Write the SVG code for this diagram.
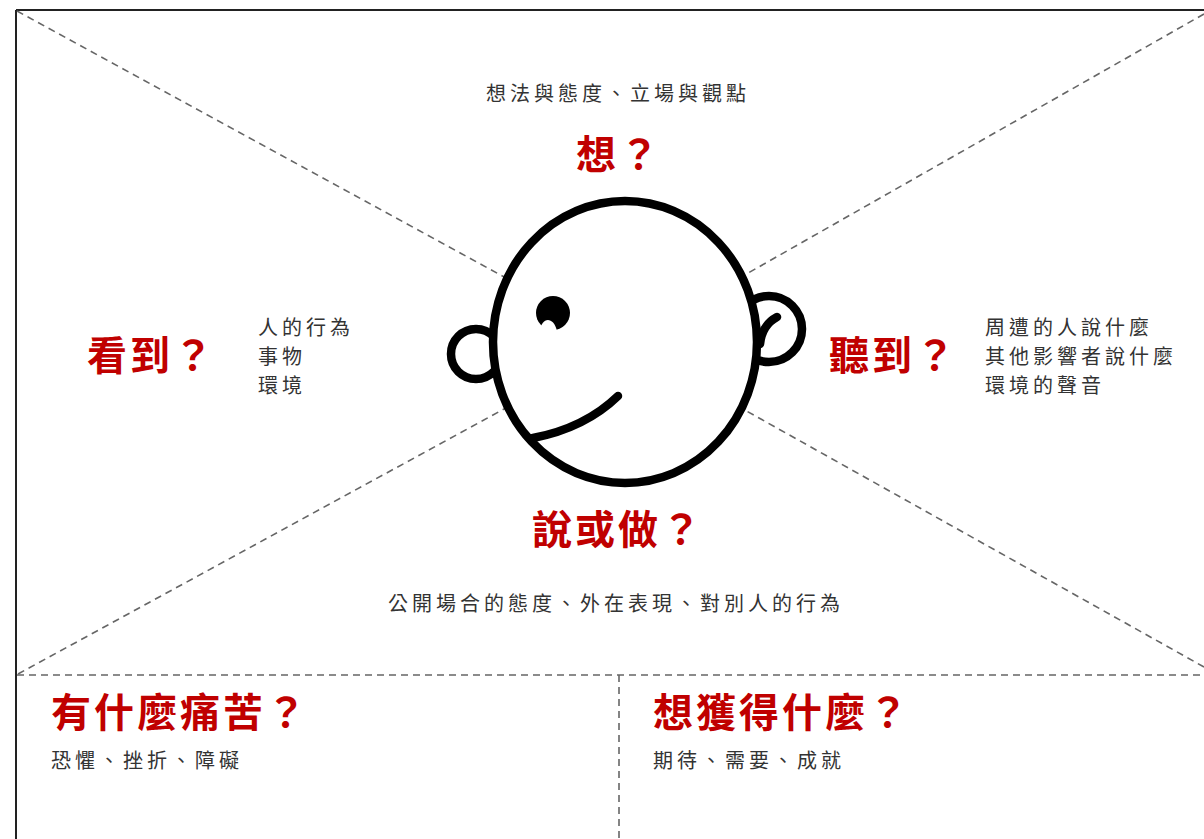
<svg xmlns="http://www.w3.org/2000/svg" width="1204" height="839" viewBox="0 0 1204 839">
  <style>
    .frame { stroke: #222; stroke-width: 2; fill: none; }
    .dash { stroke: #666; stroke-width: 1.6; stroke-dasharray: 7 5; fill: none; }
    .ink { stroke: #000; stroke-width: 8.5; stroke-linecap: round; stroke-linejoin: round; }
    .title { font-family: "Noto Sans CJK TC", "Noto Sans CJK SC", sans-serif; font-size: 40px; font-weight: 700; fill: #c00000; letter-spacing: 3px; }
    .note { font-family: "Noto Sans CJK TC", "Noto Sans CJK SC", sans-serif; font-size: 20px; fill: #333; letter-spacing: 4px; }
  </style>

  <rect width="1204" height="839" fill="#fff"/>

  <!-- outer frame: top and left edges -->
  <g id="frame">
    <line class="frame" x1="16" y1="10" x2="1204" y2="10"/>
    <line class="frame" x1="16" y1="10" x2="16" y2="839"/>
  </g>

  <!-- dashed guide lines -->
  <g id="connectors">
    <line class="dash" x1="17" y1="11" x2="625" y2="343"/>
    <line class="dash" x1="1204" y1="14" x2="625" y2="343"/>
    <line class="dash" x1="18" y1="674" x2="625" y2="343"/>
    <line class="dash" x1="1204" y1="667" x2="625" y2="343"/>
    <line class="dash" x1="17" y1="675" x2="1204" y2="675"/>
    <line class="dash" x1="619" y1="675" x2="619" y2="839"/>
  </g>

  <!-- face -->
  <g id="head">
    <circle class="ink" cx="476" cy="354" r="25" fill="#fff"/>
    <circle class="ink" cx="769" cy="329" r="33" fill="#fff"/>
    <ellipse class="ink" cx="625" cy="342" rx="132" ry="141" fill="#fff"/>
    <path class="ink" d="M777 317 Q762 325 760 344" fill="none"/>
    <circle cx="553" cy="313" r="17" fill="#000"/>
    <path d="M540 331 C541 318 553 315 557 331 Z" fill="#fff"/>
    <path class="ink" d="M618 396 Q585 428 533 438" fill="none"/>
  </g>

  <g id="think">
    <text class="note" x="486" y="101">想法與態度、立場與觀點</text>
    <text class="title" x="576" y="169">想？</text>
  </g>

  <g id="see">
    <text class="title" x="87" y="370">看到？</text>
    <text class="note" x="258" y="335">人的行為</text>
    <text class="note" x="258" y="364">事物</text>
    <text class="note" x="258" y="393">環境</text>
  </g>

  <g id="hear">
    <text class="title" x="829" y="370">聽到？</text>
    <text class="note" x="985" y="335">周遭的人說什麼</text>
    <text class="note" x="985" y="364">其他影響者說什麼</text>
    <text class="note" x="985" y="393">環境的聲音</text>
  </g>

  <g id="say-do">
    <text class="title" x="532" y="544">說或做？</text>
    <text class="note" x="388" y="611">公開場合的態度、外在表現、對別人的行為</text>
  </g>

  <g id="pain">
    <text class="title" x="51" y="727">有什麼痛苦？</text>
    <text class="note" x="51" y="768">恐懼、挫折、障礙</text>
  </g>

  <g id="gain">
    <text class="title" x="653" y="727">想獲得什麼？</text>
    <text class="note" x="653" y="768">期待、需要、成就</text>
  </g>
</svg>
